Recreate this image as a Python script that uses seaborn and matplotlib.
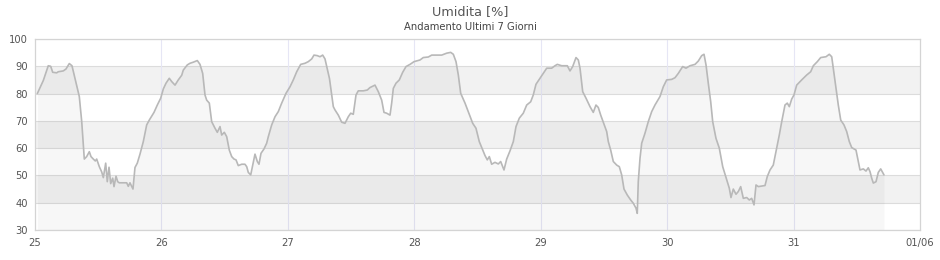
import matplotlib
matplotlib.use("Agg")
import matplotlib.pyplot as plt
import seaborn as sns
import pandas as pd

# hours since 25 May 00:00
hours = [0.44, 1.58, 2.52, 2.98, 3.36, 4.12, 4.42, 5.37, 5.88, 6.51, 7.02, 7.59, 7.92, 8.41, 8.87,
         9.17, 9.36, 9.81, 10.31, 10.63, 11.07, 11.45, 11.71, 12.21, 12.66, 12.97, 13.42, 13.72,
         14.05, 14.37, 14.75, 15.0, 15.38, 15.70, 16.0, 17.41, 17.71, 18.03, 18.60, 18.98, 19.42,
         19.93, 20.56, 21.20, 21.70, 22.59, 23.22, 23.86, 24.36, 24.87, 25.49, 25.95, 26.58, 27.20,
         27.85, 28.15, 28.91, 29.42, 30.05, 30.81, 31.32, 31.83, 32.27, 32.59, 33.09, 33.54, 34.17,
         34.61, 35.12, 35.44, 35.94, 36.39, 36.88, 37.34, 37.78, 38.16, 38.59, 39.24, 39.86, 40.19,
         40.49, 40.95, 41.33, 41.76, 42.20, 42.52, 42.90, 43.47, 43.98, 44.29, 44.93, 45.56, 46.19,
         46.83, 47.65, 48.41, 49.03, 49.68, 50.44, 51.25, 51.88, 52.53, 52.96, 53.59, 54.10, 54.61,
         55.05, 55.90, 56.63, 56.95, 57.58, 58.22, 58.85, 59.47, 59.93, 60.42, 60.94, 61.37, 62.32,
         63.08, 63.59, 64.54, 65.17, 65.81, 66.25, 66.76, 67.39, 67.71, 68.02, 68.53, 69.16, 69.80,
         70.43, 71.19, 71.95, 73.08, 73.71, 74.66, 75.31, 77.20, 78.15, 78.91, 79.41, 79.92, 80.36,
         80.81, 81.63, 82.44, 83.09, 83.71, 84.34, 84.99, 85.42, 85.86, 86.24, 86.69, 87.32, 87.95,
         88.40, 89.03, 89.54, 90.17, 90.80, 91.31, 91.94, 92.69, 93.34, 94.10, 94.59, 95.10, 95.86,
         96.62, 97.14, 98.08, 98.71, 99.15, 99.98, 101.05, 101.56, 102.07, 102.70, 103.14, 103.46,
         103.97, 104.60, 105.36, 105.98, 106.49, 106.93, 107.39, 108.01, 108.52, 108.83, 109.28,
         109.78, 110.42, 110.92, 111.37, 111.81, 112.44, 113.08, 113.58, 114.09, 114.33, 114.52,
         114.85, 115.17, 115.80, 116.42, 117.07, 117.69, 118.64, 119.27, 119.91, 120.86, 121.49,
         122.12, 122.95, 123.58, 124.34, 125.29, 125.91, 126.56, 127.00, 127.38, 127.81, 128.27,
         128.65, 129.27, 129.90, 130.55, 131.31, 131.80, 132.12, 132.56, 133.07, 133.51, 133.96,
         134.46, 135.10, 135.60, 136.05, 136.49, 136.87, 137.31, 138.58, 139.01, 139.53, 140.15,
         140.80, 141.29, 141.75, 142.37, 142.81, 143.19, 143.65, 144.08, 144.59, 145.54, 146.49,
         147.25, 147.75, 148.51, 149.15, 150.16, 150.78, 151.24, 151.54, 152.05, 152.49, 152.95,
         153.57, 154.08, 154.58, 155.04, 155.85, 156.29, 156.61, 157.24, 157.75, 158.18, 158.51,
         158.83, 159.14, 159.65, 160.08, 160.54, 161.16]

humidity = [80.0, 84.8, 90.2, 90.0, 87.8, 87.6, 88.0, 88.3, 89.0, 91.0, 90.2, 85.6, 83.1, 78.9, 69.7,
            61.1, 56.0, 56.9, 58.7, 56.9, 56.0, 55.3, 56.0, 53.2, 51.3, 49.2, 54.5, 47.7,
            53.0, 47.0, 49.0, 45.9, 49.7, 47.7, 47.3, 47.3, 46.0, 47.3, 45.0, 52.9, 54.5,
            57.8, 62.4, 68.5, 70.3, 73.1, 75.8, 78.3, 81.7, 83.8, 85.6, 84.4, 83.1, 85.0,
            86.7, 88.6, 90.5, 91.1, 91.5, 92.1, 90.7, 87.4, 79.5, 77.6, 76.5, 69.7, 67.3,
            65.8, 67.9, 64.8, 65.8, 64.2, 59.3, 56.9, 56.0, 55.7, 53.6, 54.1, 54.1, 53.2,
            51.1, 50.2, 53.8, 57.8, 55.1, 54.1, 58.1, 59.7, 61.8, 64.2, 68.5, 71.5, 73.4,
            76.5, 80.1, 82.5, 85.0, 88.0, 90.7, 91.1, 91.7, 92.7, 94.1, 93.9, 93.5, 94.1,
            92.7, 85.5, 75.2, 74.0, 72.1, 69.5, 69.1, 71.5, 72.8, 72.4, 79.5, 81.0, 81.0,
            81.3, 82.2, 83.1, 80.7, 77.6, 73.1, 72.8, 72.1, 76.5, 81.9, 83.8, 85.0, 87.8,
            89.9, 90.7, 91.7, 92.3, 93.2, 93.4, 94.1, 94.1, 94.8, 95.1, 94.4, 91.7, 86.8,
            80.1, 76.5, 72.4, 69.1, 67.3, 62.4, 59.3, 57.3, 55.7, 56.9, 54.1, 54.8, 54.2,
            55.1, 52.0, 56.0, 59.0, 62.4, 67.9, 71.0, 72.8, 75.8, 77.0, 79.5, 83.4, 85.6,
            87.8, 89.3, 89.3, 90.2, 90.7, 90.2, 90.2, 88.3, 89.9, 93.2, 92.3, 89.3,
            80.7, 78.3, 75.2, 73.1, 75.8, 74.9, 72.1, 68.8, 66.1, 62.4, 59.3,
            55.1, 53.8, 53.2, 50.2, 45.0, 42.8, 41.0, 39.8, 38.0, 36.1, 47.7,
            56.3, 61.8, 65.5, 69.7, 73.4, 75.8, 78.9, 82.5, 85.0, 85.2, 85.8,
            87.4, 89.9, 89.3, 90.2, 90.7, 91.9, 93.9, 94.4, 90.5, 83.8, 77.0,
            69.7, 63.6, 60.0, 53.2, 48.4, 45.3, 41.9, 45.0, 43.1, 44.1, 45.9,
            41.6, 41.9, 41.0, 41.6, 39.2, 46.5, 45.9, 46.3, 49.6, 52.0, 53.8,
            60.0, 64.8, 69.7, 75.8, 76.5, 75.2, 78.0, 79.5, 83.1, 85.0, 86.8,
            88.0, 90.2, 91.7, 93.2, 93.5, 94.4, 93.5, 89.3, 81.9, 75.8, 70.3,
            68.5, 66.1, 62.4, 60.2, 59.3, 55.1, 52.0, 52.4, 51.6, 52.8, 51.4,
            49.0, 47.2, 47.7, 51.1, 52.4, 50.2]

day_ticks = [0, 24, 48, 72, 96, 120, 144, 168]
day_labels = ["25", "26", "27", "28", "29", "30", "31", "01/06"]
y_ticks = [30, 40, 50, 60, 70, 80, 90, 100]

title = "Umidita [%]"
subtitle = "Andamento Ultimi 7 Giorni"

df = pd.DataFrame({"ore": hours, "umidita": humidity})

sns.set_style("white")
plt.rcParams['font.family'] = ['DejaVu Sans']

fig = plt.figure(figsize=(9.4, 2.6), dpi=100)
ax = fig.add_axes([35 / 940, 1 - 230 / 260, 885 / 940, 191 / 260])

# alternating bands
for lo in (40, 60, 80):
    ax.axhspan(lo, lo + 10, color="#f2f2f2", zorder=0, lw=0)

# grid
for y in y_ticks:
    ax.axhline(y, color="#dcdcdc", lw=0.8, zorder=1)
for x in day_ticks[1:-1]:
    ax.axvline(x, color="#e6e6f5", lw=0.8, zorder=1)

ax.fill_between(df["ore"], df["umidita"], 30, color="black", alpha=0.03, lw=0, zorder=2)
sns.lineplot(data=df, x="ore", y="umidita", ax=ax, color="#b8b8b8", lw=1.2, zorder=3)

ax.set_xlim(0, 168)
ax.set_ylim(30, 100)
ax.set_xticks(day_ticks)
ax.set_xticklabels(day_labels)
ax.set_yticks(y_ticks)
ax.set_yticklabels([str(v) for v in y_ticks])
ax.tick_params(axis="both", length=0, labelsize=7.2, colors="#555555", pad=5)
ax.tick_params(axis="x", pad=6)
ax.set_xlabel("")
ax.set_ylabel("")
for s in ax.spines.values():
    s.set_color("#d4d4d4")
    s.set_linewidth(0.9)

fig.text(0.5, 1 - 11.5 / 260, title, ha="center", va="center", fontsize=9.2, color="#555555")
fig.text(0.5, 1 - 27 / 260, subtitle, ha="center", va="center", fontsize=7.2, color="#444444")

fig.savefig("out.png", dpi=100, facecolor="white")
